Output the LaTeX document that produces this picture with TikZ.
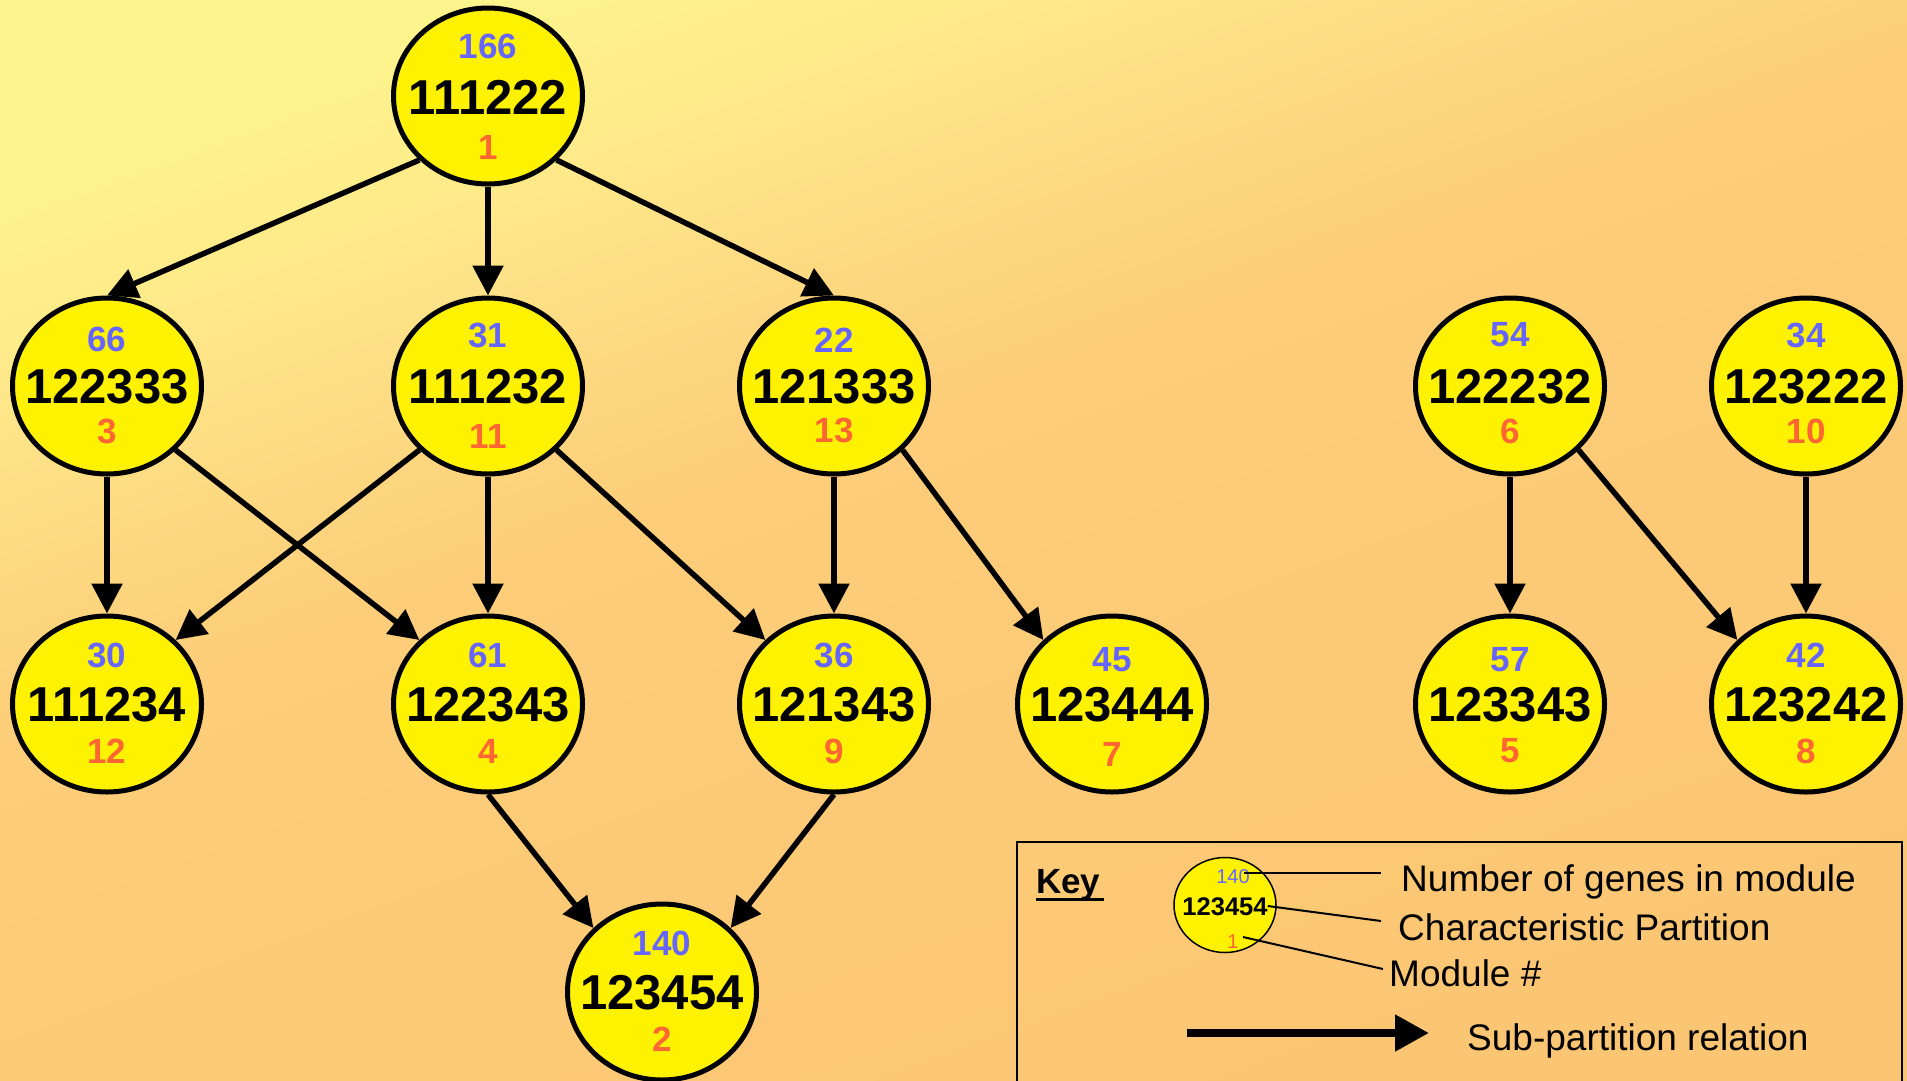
\documentclass[tikz,border=0pt]{standalone}
\usepackage{fontspec}
\setmainfont{Liberation Sans}
\usetikzlibrary{arrows.meta,shapes.geometric}

\definecolor{bgA}{HTML}{FEF38D}
\definecolor{bgB}{HTML}{FEEA8A}
\definecolor{bgC}{HTML}{FDE187}
\definecolor{bgD}{HTML}{FDD881}
\definecolor{bgE}{HTML}{FDCD79}
\definecolor{bgF}{HTML}{FBC673}
\definecolor{cntblue}{HTML}{6666FF}
\definecolor{modred}{HTML}{FF6633}
% the path's bounding box covers the central part (25bp to 75bp) of the shading
\pgfdeclarehorizontalshading{bgshade}{100bp}{color(0bp)=(bgA); color(25bp)=(bgA); color(31bp)=(bgB); color(35bp)=(bgC); color(39bp)=(bgD); color(45bp)=(bgE); color(75bp)=(bgF); color(100bp)=(bgF)}

\tikzset{
  modell/.style={ellipse, draw=black, line width=5pt, fill=yellow,
    minimum width=189pt, minimum height=176pt, inner sep=0pt},
  part/.style={inner sep=0pt, font=\bfseries\fontsize{49}{52}\selectfont},
  cnt/.style={inner sep=0pt, text=cntblue, font=\bfseries\fontsize{35}{38}\selectfont},
  mdl/.style={inner sep=0pt, text=modred, font=\bfseries\fontsize{35}{38}\selectfont},
  subarrow/.style={line width=5.5pt, -{Triangle[length=30pt,width=30pt]}},
  keyell/.style={ellipse, draw=black, line width=1.5pt, fill=yellow,
    minimum width=102pt, minimum height=95pt, inner sep=0pt},
  keytxt/.style={inner sep=0pt, anchor=base west, font=\fontsize{37}{40}\selectfont},
  leader/.style={line width=2pt},
}

% module node: name, x, y, gene count, partition, module number, count offset, number offset
\newcommand\modnode[8]{%
  \node[modell] (#1) at (#2,#3) {};
  \node[part] (#1-p) at ([yshift=-1pt]#1.center) {#5};
  \node[cnt] (#1-c) at ([yshift=#7pt]#1.center) {#4};
  \node[mdl] (#1-m) at ([yshift=-#8pt]#1.center) {#6};
}

\begin{document}
\begin{tikzpicture}[x=1pt,y=-1pt]
  \useasboundingbox (0,0) rectangle (1907,1080);
  \shade[shading=bgshade, shading angle=-70] (0,0) rectangle (1907,1080);

  % modules
  \modnode{m1}{488}{96}{166}{111222}{1}{50}{51}
  \modnode{m3}{107}{386}{66}{122333}{3}{47}{45}
  \modnode{m11}{488}{386}{31}{111232}{11}{51}{50}
  \modnode{m13}{834}{386}{22}{121333}{13}{46}{44}
  \modnode{m6}{1510}{386}{54}{122232}{6}{51}{45}
  \modnode{m10}{1806}{386}{34}{123222}{10}{51}{45}
  \modnode{m12}{107}{704}{30}{111234}{12}{49}{47}
  \modnode{m4}{488}{704}{61}{122343}{4}{49}{47}
  \modnode{m9}{834}{704}{36}{121343}{9}{49}{47}
  \modnode{m7}{1112}{704}{45}{123444}{7}{44}{50}
  \modnode{m5}{1510}{704}{57}{123343}{5}{44}{47}
  \modnode{m8}{1806}{704}{42}{123242}{8}{49}{47}
  \modnode{m2}{662}{992}{140}{123454}{2}{49}{47}

  % sub-partition relations
  \draw[subarrow] (m1.south west) -- (m3.north);
  \draw[subarrow] (m1.south) -- (m11.north);
  \draw[subarrow] (m1.south east) -- (m13.north);
  \draw[subarrow] (m3.south) -- (m12.north);
  \draw[subarrow] (m3.south east) -- (m4.north west);
  \draw[subarrow] (m11.south west) -- (m12.north east);
  \draw[subarrow] (m11.south) -- (m4.north);
  \draw[subarrow] (m11.south east) -- (m9.north west);
  \draw[subarrow] (m13.south) -- (m9.north);
  \draw[subarrow] (m13.south east) -- (m7.north west);
  \draw[subarrow] (m6.south) -- (m5.north);
  \draw[subarrow] (m6.south east) -- (m8.north west);
  \draw[subarrow] (m10.south) -- (m8.north);
  \draw[subarrow] (m4.south) -- (m2.north west);
  \draw[subarrow] (m9.south) -- (m2.north east);

  % key
  \draw[line width=2pt] (1017,842) rectangle (1902,1100);
  \node[inner sep=0pt, anchor=base west, font=\bfseries\fontsize{35}{38}\selectfont] (keyhead) at (1036,893) {Key};
  \draw[line width=3pt] (1036,899) -- (1104,899);

  \node[keyell] (kell) at (1225,905) {};
  \node[inner sep=0pt, text=cntblue, font=\fontsize{20}{22}\selectfont] (kcnt) at (1233,877) {140};
  \node[inner sep=0pt, font=\bfseries\fontsize{25.5}{28}\selectfont] (kpart) at (1225,907) {123454};
  \node[inner sep=0pt, text=modred, font=\fontsize{20}{22}\selectfont] (kmod) at (1233,942) {1};

  \node[keytxt] (tcnt) at (1401,891) {Number of genes in module};
  \node[keytxt] (tpart) at (1398,940) {Characteristic Partition};
  \node[keytxt] (tmod) at (1389,986) {Module \#};
  \node[keytxt] (trel) at (1467,1050) {Sub-partition relation};

  \coordinate (lc) at (1381,873);
  \coordinate (lp) at (1381,921);
  \coordinate (lm) at (1383,969);
  \draw[leader] (kcnt.center) ++(11,-4) -- (lc);
  \draw[leader] (kpart.east) ++(0,-1) -- (lp);
  \draw[leader] (kmod.center) ++(10,-5) -- (lm);

  \coordinate (ka) at (1187,1033);
  \coordinate (kb) at (1429,1033);
  \draw[line width=8pt, -{Triangle[length=34pt,width=35pt]}] (ka) -- (kb);
\end{tikzpicture}
\end{document}
